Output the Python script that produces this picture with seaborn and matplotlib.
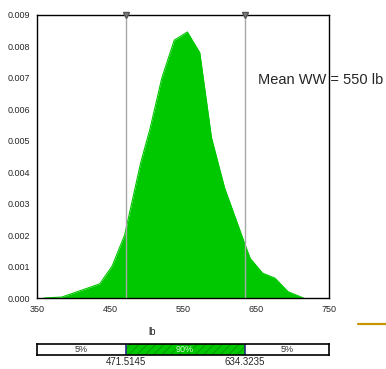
import matplotlib
matplotlib.use("Agg")
import matplotlib.pyplot as plt
import seaborn as sns
import pandas as pd

sns.set_style("white")
plt.rcParams['font.family'] = ['Liberation Sans', 'DejaVu Sans']
plt.rcParams['hatch.linewidth'] = 0.8

# data
weight_lb = [360, 384, 436, 453, 470, 492, 505, 521, 538, 556, 573, 589, 607, 635, 642, 659, 676, 694, 715]
density = [0.0, 0.00003, 0.00045, 0.00102, 0.0020, 0.0043, 0.0054, 0.0070, 0.0082, 0.00846,
           0.0078, 0.0051, 0.0035, 0.0017, 0.00126, 0.00079, 0.00063, 0.0002, 0.0]
x_ticks = [350, 450, 550, 650, 750]
y_ticks = [0.000, 0.001, 0.002, 0.003, 0.004, 0.005, 0.006, 0.007, 0.008, 0.009]
lower_pct, upper_pct = 471.5145, 634.3235
band_labels = ["5%", "90%", "5%"]
mean_text = "Mean WW = 550 lb"
x_label = "lb"

df = pd.DataFrame({"lb": weight_lb, "density": density})
green = "#00c800"

W, H = 386, 369
fig = plt.figure(figsize=(W / 100, H / 100), dpi=100)
L, R, T, B = 37, 329, 15, 298
ax = fig.add_axes([L / W, 1 - B / H, (R - L) / W, (B - T) / H])

sns.lineplot(data=df, x="lb", y="density", ax=ax, color=green, lw=0.8)
ax.fill_between(df["lb"], df["density"], color=green, lw=0)

ax.set_xlim(350, 750)
ax.set_ylim(0, 0.009)
ax.set_xticks(x_ticks)
ax.set_xticklabels([str(v) for v in x_ticks], fontsize=6.5)
ax.set_yticks(y_ticks)
ax.set_yticklabels([f"{v:.3f}" for v in y_ticks], fontsize=6.5)
ax.set_xlabel("")
ax.set_ylabel("")
ax.tick_params(axis='y', direction='inout', length=8, width=1, color='#444444', pad=1)
ax.tick_params(axis='x', direction='out', length=4, width=1, color='#444444', pad=1)
for s in ax.spines.values():
    s.set_color('black')
    s.set_linewidth(1)
    s.set_visible(True)

for v in (lower_pct, upper_pct):
    ax.axvline(v, color='#a8a8a8', lw=1, zorder=3)
    ax.plot([v], [0.009], marker='v', ms=5, color='#808080', mec='#555555',
            clip_on=False, zorder=5, transform=ax.transData)

fig.text(258 / W, 1 - 80 / H, mean_text, fontsize=10.5, va='center', ha='left')
fig.text(152.5 / W, 1 - 332 / H, x_label, fontsize=7, ha='center', va='center')
fig.add_artist(plt.Line2D([358 / W, 1.0], [1 - 324 / H] * 2, color='#c89600', lw=1.6))

# percentile band
bx = fig.add_axes([L / W, 1 - 355 / H, (R - L) / W, 11.5 / H])
bx.set_xlim(350, 750)
bx.set_ylim(0, 1)
bx.barh(0.5, lower_pct - 350, left=350, height=1, color='white', edgecolor='none')
bx.barh(0.5, upper_pct - lower_pct, left=lower_pct, height=1, facecolor=green,
        edgecolor='#00a000', linewidth=0, hatch='////')
bx.barh(0.5, 750 - upper_pct, left=upper_pct, height=1, color='white', edgecolor='none')
for v in (lower_pct, upper_pct):
    bx.axvline(v, color='#2a2a80', lw=1.2)
bx.text((350 + lower_pct) / 2, 0.45, band_labels[0], ha='center', va='center', fontsize=6.5, color='#333333')
bx.text((lower_pct + upper_pct) / 2, 0.45, band_labels[1], ha='center', va='center', fontsize=6.5, color='#d8ffd8')
bx.text((upper_pct + 750) / 2, 0.45, band_labels[2], ha='center', va='center', fontsize=6.5, color='#333333')
bx.set_xticks([])
bx.set_yticks([])
for s in bx.spines.values():
    s.set_color('black')
    s.set_linewidth(1.2)
    s.set_visible(True)
for v in (lower_pct, upper_pct):
    fig.text((L + (v - 350) / 400 * (R - L)) / W, 1 - 362 / H, f"{v:.4f}",
             ha='center', va='center', fontsize=7)

fig.savefig("out.png", dpi=100)
